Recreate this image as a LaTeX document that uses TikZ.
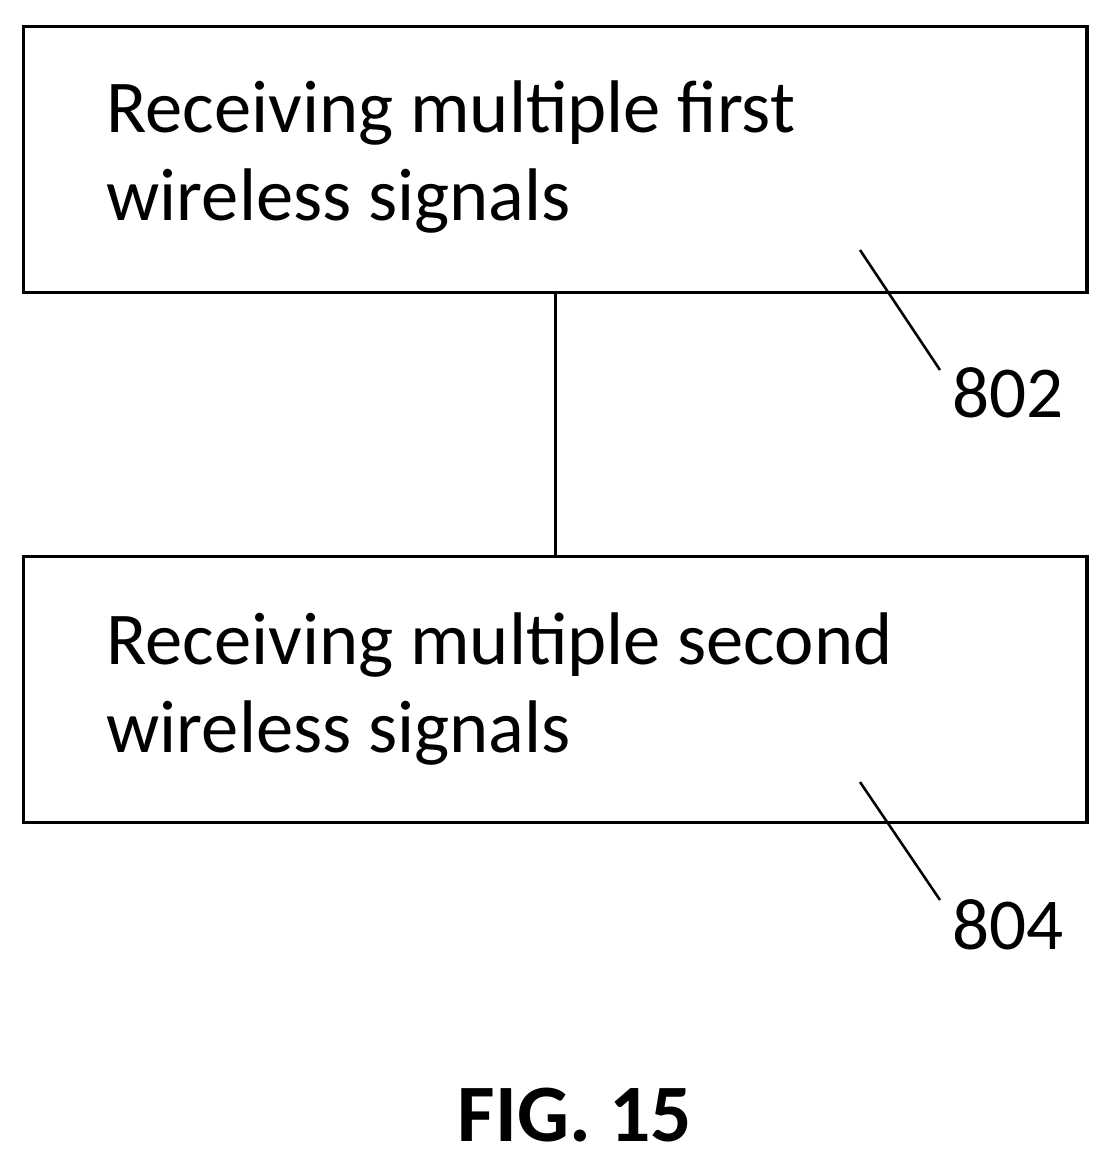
\documentclass[tikz,border=0pt]{standalone}
\usepackage{fontspec}
\setmainfont{Carlito}
\begin{document}
\begin{tikzpicture}[x=0.025cm, y=-0.025cm, line width=2.2pt,
    stepbox/.style = {draw, anchor=north west, minimum width=26.58cm, minimum height=6.65cm},
    steptext/.style = {anchor=base west, align=left, inner sep=0pt, font=\fontsize{53}{62}\selectfont},
    ref/.style = {inner sep=0pt, font=\fontsize{52}{60}\selectfont}]
    \useasboundingbox (0,0) rectangle (1106,1160);
    \node[stepbox] (box1) at (22,25) {};
    \node[stepbox] (box2) at (22,555) {};
    \node[steptext] (t1) at (105,220) {Receiving multiple first\\wireless signals};
    \node[steptext] (t2) at (105,752) {Receiving multiple second\\wireless signals};
    \draw (box1.south) -- (box2.north);
    % reference numerals
    \coordinate (l1) at (860,250);
    \node[ref] (r1) at (1008,393) {802};
    \draw[line width=1.8pt] (l1) -- (940,370);
    \coordinate (l2) at (860,782);
    \node[ref] (r2) at (1008,925) {804};
    \draw[line width=1.8pt] (l2) -- (940,900);
    \node[font=\fontsize{58}{60}\selectfont\bfseries] (fig) at (575,1115) {FIG. 15};
\end{tikzpicture}
\end{document}
